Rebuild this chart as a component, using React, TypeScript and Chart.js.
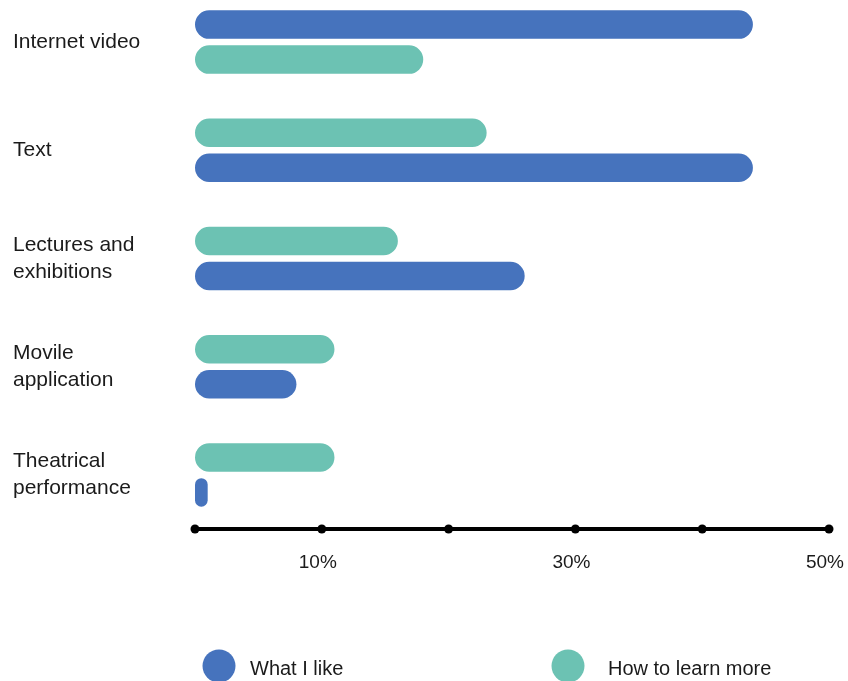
import React, { useEffect, useRef } from 'react';
import { Chart, registerables } from 'chart.js';

Chart.register(...registerables);

// ---- data ----
const categories: (string | string[])[] = [
  'Internet video',
  'Text',
  ['Lectures and', 'exhibitions'],
  ['Movile', 'application'],
  ['Theatrical', 'performance'],
];
const whatILike = [44, 44, 26, 8, 1];
const howToLearnMore = [18, 23, 16, 11, 11];
// in which categories the "What I like" bar is drawn above the other one
const likeShownFirst = [true, false, false, false, false];
const xTickLabels = ['', '10%', '', '30%', '', '50%'];
const seriesNames = ['What I like', 'How to learn more'];

// ---- styles ----
const BLUE = '#4673BD';
const TEAL = '#6CC2B3';
const TEXT = '#1b1b1b';
const FONT = "'Liberation Sans', Arial, Helvetica, sans-serif";

const tickDots = {
  id: 'tickDots',
  afterDraw(chart: any) {
    const s = chart.scales.x;
    const ctx = chart.ctx;
    const y = chart.chartArea.bottom;
    ctx.save();
    ctx.fillStyle = '#000';
    s.ticks.forEach((t: any) => {
      const x = s.getPixelForValue(t.value);
      ctx.beginPath();
      ctx.arc(x, y, 4.5, 0, Math.PI * 2);
      ctx.fill();
    });
    ctx.restore();
  },
};

const legendLayout = [
  { circle: 219, text: 250 },
  { circle: 568, text: 608 },
];

const bottomLegend = {
  id: 'bottomLegend',
  afterDraw(chart: any) {
    const ctx = chart.ctx;
    const colors = [BLUE, TEAL];
    const cy = chart.height - 15;
    ctx.save();
    seriesNames.forEach((name, i) => {
      const pos = legendLayout[i];
      ctx.fillStyle = colors[i];
      ctx.beginPath();
      ctx.arc(pos.circle, cy, 16.5, 0, Math.PI * 2);
      ctx.fill();
      ctx.fillStyle = TEXT;
      ctx.font = `20px ${FONT}`;
      ctx.textAlign = 'left';
      ctx.textBaseline = 'middle';
      ctx.fillText(name, pos.text, cy + 3);
    });
    ctx.restore();
  },
};

export default function App() {
  const ref = useRef<HTMLCanvasElement | null>(null);

  useEffect(() => {
    if (!ref.current) return;
    const common = {
      skipNull: true,
      borderRadius: 20,
      borderSkipped: false,
      inflateAmount: 0,
      categoryPercentage: 0.647,
      barPercentage: 0.814,
    };
    const chart = new Chart(ref.current, {
      type: 'bar',
      data: {
        labels: categories as any,
        datasets: [
          {
            ...common,
            label: seriesNames[0],
            data: whatILike.map((v, i) => (likeShownFirst[i] ? v : null)),
            backgroundColor: BLUE,
          },
          {
            ...common,
            label: seriesNames[1],
            data: howToLearnMore,
            backgroundColor: TEAL,
          },
          {
            ...common,
            label: seriesNames[0],
            data: whatILike.map((v, i) => (likeShownFirst[i] ? null : v)),
            backgroundColor: BLUE,
          },
        ] as any,
      },
      options: {
        indexAxis: 'y',
        animation: false,
        responsive: false,
        layout: { padding: { left: 13, right: 19, top: 0, bottom: 92 } },
        plugins: {
          legend: { display: false },
          tooltip: { enabled: false },
        },
        scales: {
          x: {
            type: 'linear',
            min: 0,
            max: 50,
            grid: { display: false, drawTicks: false },
            border: { display: true, color: '#000', width: 4 },
            ticks: {
              stepSize: 10,
              autoSkip: false,
              maxRotation: 0,
              padding: 22,
              labelOffset: -4,
              color: TEXT,
              font: { family: FONT, size: 19 },
              callback: (_v: any, i: number) => xTickLabels[i] ?? '',
            },
            afterFit: (s: any) => {
              s.height = 60;
              s.paddingLeft = 0;
              s.paddingRight = 0;
            },
          },
          y: {
            type: 'category',
            offset: true,
            grid: { display: false, drawTicks: false },
            border: { display: false },
            ticks: {
              autoSkip: false,
              crossAlign: 'far',
              padding: 0,
              color: TEXT,
              font: { family: FONT, size: 21, lineHeight: 1.3 },
            },
            afterFit: (s: any) => {
              s.width = 182;
              s.paddingTop = 0;
              s.paddingBottom = 0;
            },
          },
        },
      } as any,
      plugins: [tickDots, bottomLegend],
    });
    return () => chart.destroy();
  }, []);

  return (
    <div style={{ position: 'absolute', left: 0, top: -12, width: 848, height: 693 }}>
      <canvas ref={ref} width={848} height={693} style={{ display: 'block' }} />
    </div>
  );
}
